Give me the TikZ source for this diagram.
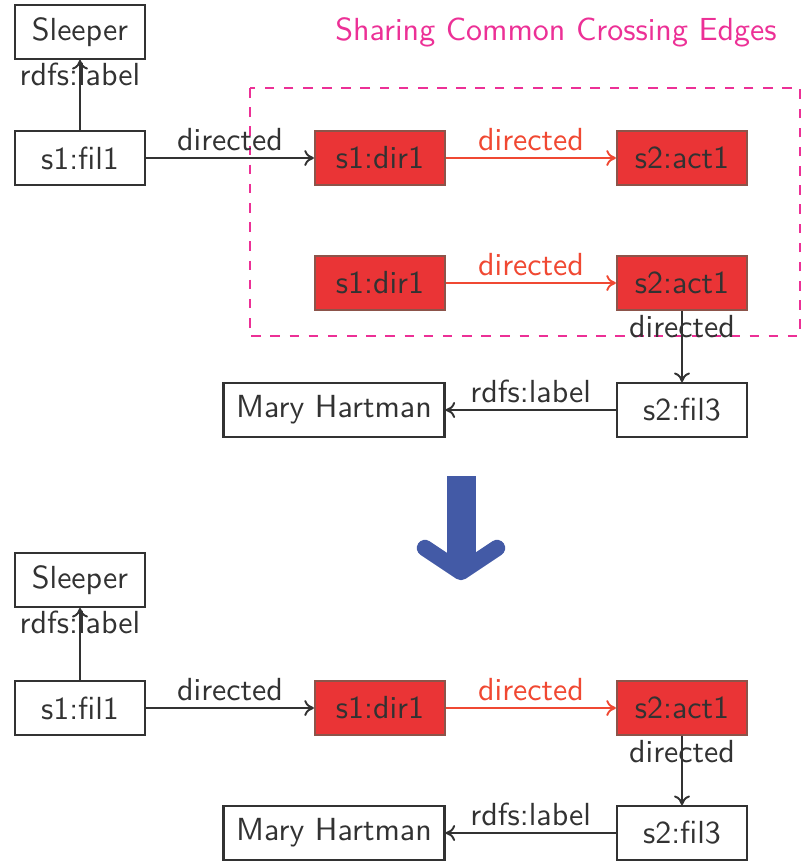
\documentclass[tikz,border=0pt]{standalone}
\usepackage{tikz}
\usepackage{xcolor}
\usetikzlibrary{arrows.meta}
\definecolor{boxred}{RGB}{234,52,54}
\definecolor{boxrim}{RGB}{140,84,74}
\definecolor{edgered}{RGB}{240,72,50}
\definecolor{pinkline}{RGB}{236,48,150}
\definecolor{arrowblue}{RGB}{67,90,166}
\definecolor{inkgray}{RGB}{50,50,50}
\tikzset{
  res/.style={draw=inkgray, line width=0.7pt, minimum width=1.43cm, minimum height=0.59cm, text=inkgray, font=\sffamily},
  hot/.style={res, fill=boxred, draw=boxrim},
  link/.style={draw=inkgray, line width=0.6pt, -{To[length=3pt,width=5pt]}},
  hotlink/.style={link, draw=edgered},
  lbl/.style={font=\sffamily, text=inkgray, inner sep=2pt},
}

\begin{document}
\begin{tikzpicture}[x=0.011cm,y=-0.011cm]
    \useasboundingbox (0,0) rectangle (808,864);
    % before
    \node[text=pinkline, font=\sffamily] (T) at (556,32) {Sharing Common Crossing Edges};
    \draw[pinkline, dashed, line width=0.6pt] (250,88) rectangle (800,336);
    \node[res] (S1) at (80,32) {Sleeper};
    \node[res] (F1) at (80,158) {s1:fil1};
    \node[hot] (D1) at (380,158) {s1:dir1};
    \node[hot] (A1) at (682,158) {s2:act1};
    \node[hot] (D2) at (380,283) {s1:dir1};
    \node[hot] (A2) at (682,283) {s2:act1};
    \node[res] (F3) at (682,410) {s2:fil3};
    \node[res, minimum width=2.43cm] (M1) at (334,410) {Mary Hartman};
    \draw[link] (F1) -- (S1) node[lbl, pos=0.8]{rdfs:label};
    \draw[link] (F1) -- (D1) node[lbl, midway, above]{directed};
    \draw[hotlink] (D1) -- (A1) node[lbl, text=edgered, midway, above]{directed};
    \draw[hotlink] (D2) -- (A2) node[lbl, text=edgered, midway, above]{directed};
    \draw[link] (A2) -- (F3) node[lbl, pos=0.22]{directed};
    \draw[link] (F3) -- (M1) node[lbl, midway, above]{rdfs:label};

    % big arrow
    \fill[arrowblue] (447,476) rectangle (476,562);
    \draw[arrowblue, line width=0.18cm, line cap=round, line join=round] (425,548)--(461,572)--(497,548);

    % after
    \node[res] (S2) at (80,580) {Sleeper};
    \node[res] (F2) at (80,708) {s1:fil1};
    \node[hot] (D3) at (380,708) {s1:dir1};
    \node[hot] (A3) at (682,708) {s2:act1};
    \node[res] (F4) at (682,833) {s2:fil3};
    \node[res, minimum width=2.43cm] (M2) at (334,833) {Mary Hartman};
    \draw[link] (F2) -- (S2) node[lbl, pos=0.8]{rdfs:label};
    \draw[link] (F2) -- (D3) node[lbl, midway, above]{directed};
    \draw[hotlink] (D3) -- (A3) node[lbl, text=edgered, midway, above]{directed};
    \draw[link] (A3) -- (F4) node[lbl, pos=0.22]{directed};
    \draw[link] (F4) -- (M2) node[lbl, midway, above]{rdfs:label};

\end{tikzpicture}
\end{document}
